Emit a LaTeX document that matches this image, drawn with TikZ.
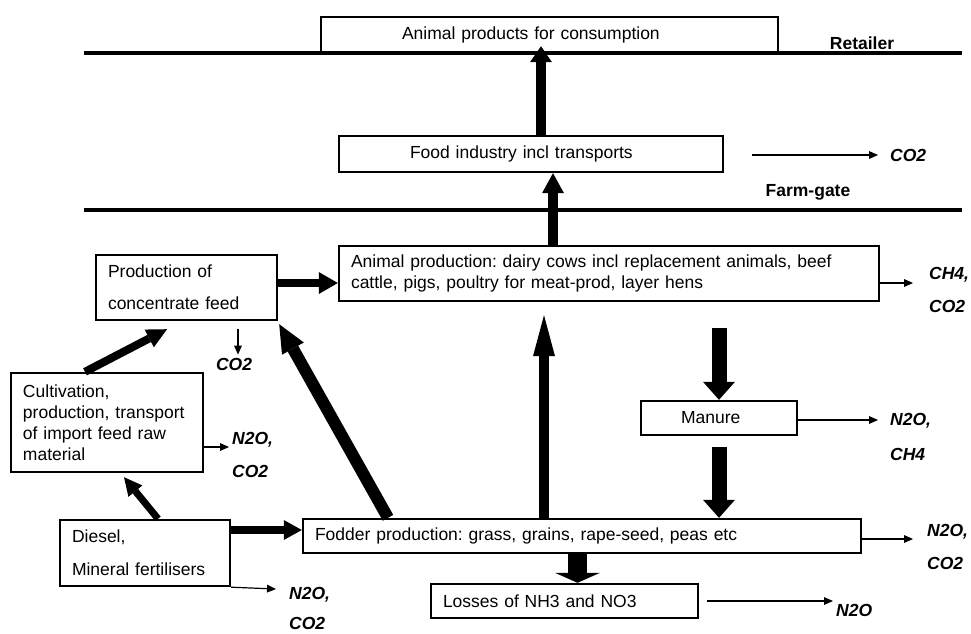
\documentclass[tikz,border=0pt]{standalone}
\usepackage{fontspec}
\setmainfont{Liberation Sans}
\frenchspacing
\usetikzlibrary{arrows.meta,calc}

\begin{document}
\begin{tikzpicture}[
  x=1pt, y=-1pt,
  font=\fontsize{17.5}{21}\selectfont,
  box/.style={draw, line width=2.4pt, inner sep=0pt, align=center},
  lbox/.style={box, align=left, inner xsep=12pt},
  gas/.style={font=\fontsize{17.5}{21}\selectfont\bfseries\itshape, inner sep=0pt, align=left, anchor=west},
  tag/.style={font=\fontsize{17.5}{21}\selectfont\bfseries, inner sep=0pt},
  bar/.style={line width=3.5pt},
  fat/.style n args={3}{line width=#1, -{Triangle[width=#2, length=#3, line width=0pt]}},
  thin/.style={line width=1.2pt, -{Triangle[width=8pt, length=9pt, line width=0pt]}}
]
\useasboundingbox (0,0) rectangle (971,633);

\draw[bar] (84,53) -- (962,53);
\draw[bar] (84,210) -- (962,210);
\node[tag] (ret) at (862,43) {Retailer};
\node[tag] (gate) at (808,192) {Farm-gate};

\node[lbox, inner xsep=81pt, text width=295pt, minimum height=36pt] (apc) at (549.5,35) {Animal products for consumption};
\node[lbox, inner xsep=71pt, text width=242pt, minimum height=36pt] (food) at (531,154) {Food industry incl transports};
\node[lbox, text width=516pt, minimum height=55pt] (anim) at (609,273.5) {Animal production: dairy cows incl replacement animals, beef\\cattle, pigs, poultry for meat-prod, layer hens};
\node[lbox, text width=157pt, minimum height=65pt] (conc) at (186.5,287.5) {Production of\\[11pt]concentrate feed};
\node[lbox, text width=168pt, minimum height=99pt] (cult) at (107,422.5) {Cultivation,\\production, transport\\of import feed raw\\material};
\node[lbox, inner xsep=40pt, text width=76pt, minimum height=34pt] (manure) at (719,418) {Manure};
\node[lbox, text width=534pt, minimum height=34pt] (fodder) at (582,536) {Fodder production: grass, grains, rape-seed, peas etc};
\node[lbox, text width=146pt, minimum height=66pt] (diesel) at (145,553) {Diesel,\\[12pt]Mineral fertilisers};
\node[lbox, text width=243pt, minimum height=34pt] (losses) at (564.5,601) {Losses of NH3 and NO3};

\node[gas] (gfood) at (890,155) {CO2};
\node[gas] (ganim) at (929,290) {CH4,\\[12pt]CO2};
\node[gas] (gman) at (890,436.5) {N2O,\\[14pt]CH4};
\node[gas] (gfod) at (927,546.5) {N2O,\\[12pt]CO2};
\node[gas] (glos) at (836,610) {N2O};
\node[gas] (gcult) at (232,454.5) {N2O,\\[12pt]CO2};
\node[gas, anchor=center] (gconc) at (234,364) {CO2};
\node[gas] (gdie) at (289,608) {N2O,\\[9pt]CO2};

\draw[fat={10pt}{22pt}{16pt}] ($(food.north)+(10,0)$) -- ($(apc.south)+(-8.5,-8)$);
\draw[fat={10pt}{22pt}{20pt}] ($(anim.north)+(-56,0)$) -- ($(food.south)+(22,0)$);
\draw[fat={8pt}{22pt}{19pt}] ($(conc.east)+(0,-4.5)$) -- ($(anim.west)+(0,9.5)$);
\draw[fat={8pt}{20pt}{20pt}] ($(cult.north)+(-22,0)$) -- ($(conc.south)+(-19.5,8)$);
\draw[fat={12pt}{25pt}{28pt}] ($(fodder.north)+(-194,0)$) -- ($(conc.south east)+(1,3)$);
\draw[fat={10pt}{22pt}{41pt}] ($(fodder.north)+(-38,0)$) -- ($(anim.south)+(-65,13)$);
\draw[fat={15pt}{32pt}{18pt}] ($(anim.south -| manure.north)+(0,26)$) -- (manure.north);
\draw[fat={15pt}{32pt}{18pt}] ($(manure.south)+(0,11)$) -- (fodder.north -| manure.south);
\draw[fat={7pt}{18pt}{18pt}] ($(diesel.north)+(13,0)$) -- ($(cult.south)+(17,4)$);
\draw[fat={8pt}{20pt}{18pt}] ($(diesel.east)+(0,-23)$) -- ($(fodder.west)+(0,-6)$);
\draw[fat={19pt}{45pt}{10pt}] ($(fodder.south)+(-4.5,0)$) -- ($(losses.north)+(13,0)$);

\draw[thin] ($(food.east)+(28,1)$) -- ($(gfood.west)+(-12,0)$);
\draw[thin] ($(anim.east)+(0,9.5)$) -- ($(ganim.west)+(-16,-7)$);
\draw[thin] ($(manure.east)+(0,2)$) -- ($(gman.west)+(-12,-16.5)$);
\draw[thin] ($(fodder.east)+(0,3)$) -- ($(gfod.west)+(-14,-7.5)$);
\draw[thin] ($(losses.east)+(8,0)$) -- ($(glos.west)+(-3,-9)$);
\draw[thin] ($(cult.east)+(0,24.5)$) -- ($(gcult.west)+(-3,-7.5)$);
\draw[thin] ($(conc.south)+(51.5,8)$) -- ($(gconc.north)+(4,-3)$);
\draw[thin] (diesel.south east) -- ($(gdie.west)+(-13,-19)$);
\end{tikzpicture}
\end{document}
